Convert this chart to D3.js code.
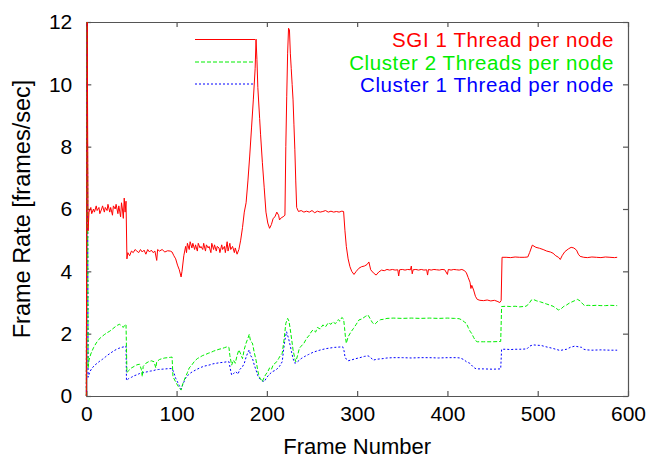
<!DOCTYPE html>
<html><head><meta charset="utf-8">
<script src="https://cdn.jsdelivr.net/npm/d3@7"></script>
<style>body{margin:0;background:#fff}svg{display:block}text{font-family:"Liberation Sans",Arial,Helvetica,sans-serif}</style>
</head><body>
<script>
const xTicks = [0,100,200,300,400,500,600];
const yTicks = [0,2,4,6,8,10,12];
const seriesNames = ["SGI 1 Thread per node","Cluster 2 Threads per node","Cluster 1 Thread per node"];
const xLabel = "Frame Number";
const yLabel = "Frame Rate [frames/sec]";

const sgi = [[0,0],[1,12],[2,5.3],[3,5.9],[5,6.05],[6,5.85],[8,6.0],[9,5.9],[11,6.1],[12,5.95],[14,6.05],[15,5.85],[17,6.0],[18,6.1],[20,5.9],[21,6.05],[23,5.95],[24,6.15],[26,5.9],[27,6.05],[29,5.8],[30,6.1],[32,6.0],[33,6.15],[35,5.85],[36,6.1],[38,5.75],[39,6.2],[40,6.0],[41,5.7],[42,6.35],[43,5.9],[44,6.25],[45,4.4],[46,4.6],[48,4.5],[50,4.65],[52,4.6],[54,4.7],[56,4.65],[58,4.6],[60,4.7],[62,4.62],[64,4.68],[66,4.55],[68,4.7],[70,4.62],[72,4.68],[74,4.6],[76,4.65],[78,4.35],[79,4.7],[81,4.65],[84,4.7],[87,4.62],[90,4.66],[93,4.65],[95,4.62],[97,4.5],[99,4.4],[101,4.2],[103,4.05],[105,3.82],[106,4.0],[108,4.5],[110,4.8],[111,4.6],[112,4.9],[114,4.7],[115,4.95],[117,4.75],[118,4.9],[120,4.7],[121,4.85],[123,4.65],[124,4.9],[126,4.75],[127,4.8],[129,4.7],[130,4.9],[132,4.65],[133,4.85],[135,4.75],[136,4.8],[138,4.6],[139,4.9],[141,4.7],[142,4.85],[144,4.65],[145,4.8],[147,4.75],[148,4.6],[150,4.85],[151,4.7],[153,4.8],[154,4.6],[156,4.95],[157,4.65],[159,4.9],[160,4.7],[162,4.8],[164,4.6],[165,4.75],[167,4.55],[169,4.7],[171,5.0],[173,5.4],[175,5.9],[177,6.2],[179,6.9],[181,7.7],[183,8.6],[185,9.5],[187,10.5],[188,11.45],[189,10.8],[190,9.9],[192,8.9],[193,8.4],[195,7.5],[197,6.7],[199,5.9],[201,5.55],[203,5.38],[205,5.5],[207,5.7],[209,5.75],[211,5.9],[213,5.8],[214,5.65],[216,5.72],[218,5.75],[220,5.8],[221,8.0],[222,9.6],[223,11.0],[224,11.8],[225,11.75],[226,11.0],[227,10.5],[228,10.0],[229,9.5],[230,8.7],[231,7.9],[232,6.9],[233,6.05],[235,5.92],[238,5.95],[241,5.9],[244,5.93],[247,5.9],[250,5.95],[253,5.88],[256,5.93],[259,5.9],[262,5.92],[265,5.95],[268,5.9],[271,5.93],[274,5.9],[277,5.92],[280,5.9],[283,5.93],[285,5.92],[286.5,5.3],[288,4.8],[290,4.4],[292,4.15],[294,4.0],[296.5,3.9],[299,4.0],[302,4.1],[305,4.15],[308,4.17],[311,4.22],[313,4.3],[315,4.05],[318,3.95],[321,3.88],[324,3.98],[327,4.04],[330,4.02],[333,4.06],[336,4.04],[339,4.06],[342,4.04],[345,4.05],[346,3.85],[347,4.05],[350,4.06],[353,4.04],[356,4.06],[359,4.05],[360,4.17],[361,3.92],[362,4.05],[365,4.06],[368,4.04],[371,4.06],[374,4.04],[377,4.05],[378,3.88],[379,4.06],[382,4.04],[385,4.06],[388,4.05],[391,4.04],[394,4.06],[397,4.05],[400,3.9],[401,4.06],[404,4.04],[407,4.06],[410,4.05],[413,4.04],[416,4.06],[419,4.02],[421,3.95],[423,3.8],[425,3.65],[426,3.45],[427,3.55],[429,3.4],[431,3.2],[433,3.1],[436,3.07],[440,3.06],[444,3.08],[448,3.05],[452,3.07],[455,3.04],[458,3.0],[459.5,3.06],[460.5,4.45],[465,4.45],[470,4.44],[475,4.46],[480,4.45],[485,4.45],[489,4.46],[491,4.6],[494,4.84],[498,4.77],[502,4.74],[506,4.7],[510,4.65],[514,4.62],[517,4.58],[520,4.5],[523,4.45],[525,4.38],[527,4.5],[530,4.63],[534,4.72],[537,4.77],[540,4.75],[543,4.68],[545,4.55],[547,4.48],[551,4.45],[555,4.44],[560,4.46],[565,4.45],[570,4.44],[575,4.46],[580,4.45],[585,4.44],[588,4.45]];

const cluster2 = [[0,0],[1,12],[2,0.9],[3,1.15],[5,1.35],[8,1.55],[11,1.7],[14,1.82],[17,1.9],[20,1.97],[23,2.03],[26,2.08],[29,2.15],[32,2.22],[35,2.28],[37,2.3],[39,2.25],[41,2.2],[43,2.3],[44,2.28],[45,0.75],[47,0.82],[50,0.9],[53,0.95],[56,1.0],[59,1.02],[61,0.85],[62,0.62],[63,0.95],[66,1.05],[69,1.1],[72,1.13],[75,1.1],[77,0.9],[78,1.1],[81,1.17],[84,1.2],[87,1.22],[90,1.23],[93,1.24],[95,1.25],[96,0.62],[99,0.45],[102,0.3],[105,0.19],[107,0.4],[110,0.62],[112,0.75],[114,0.9],[117,1.0],[120,1.12],[123,1.2],[126,1.25],[129,1.3],[132,1.33],[135,1.37],[138,1.4],[141,1.44],[144,1.47],[147,1.5],[150,1.52],[153,1.55],[156,1.58],[158,1.56],[159,1.3],[161,0.99],[163,1.15],[165,1.05],[167,1.3],[169,1.48],[171,1.35],[173,1.2],[175,1.5],[177,1.7],[179,1.85],[180.5,1.98],[182,1.75],[184,1.7],[186,1.4],[188,1.15],[190,0.8],[191.5,0.62],[193,0.55],[195,0.46],[197,0.6],[199,0.7],[201,0.78],[203,0.9],[205,0.85],[207,1.0],[209,1.05],[211,1.1],[213,1.2],[215,1.3],[217,1.37],[219,1.8],[221,2.33],[223,2.49],[224.5,2.4],[226,2.12],[228,1.7],[229,1.48],[231,1.2],[232,1.1],[234,1.3],[236,1.53],[238,1.6],[241,1.69],[244,1.85],[247,1.95],[249,2.05],[251,2.12],[254,2.05],[256,2.2],[259,2.15],[262,2.28],[265,2.22],[268,2.35],[271,2.3],[273,2.38],[276,2.32],[279,2.45],[281,2.4],[283,2.52],[285,2.47],[286,2.2],[287,1.9],[288,1.69],[290,1.9],[293,2.05],[296,2.17],[299,2.3],[302,2.44],[305,2.47],[309,2.55],[312,2.6],[314,2.5],[317,2.35],[319.5,2.3],[323,2.4],[326,2.45],[329,2.46],[333,2.49],[340,2.5],[350,2.49],[360,2.5],[370,2.49],[380,2.5],[390,2.49],[400,2.5],[408,2.49],[413,2.48],[416,2.44],[419,2.37],[421,2.33],[423,2.2],[425,2.08],[427,2.0],[429,1.88],[431,1.78],[433,1.74],[440,1.74],[450,1.74],[459,1.75],[460,2.87],[465,2.88],[470,2.87],[475,2.88],[480,2.86],[487,2.88],[490,2.95],[493,3.08],[495,3.1],[499,3.05],[503,3.02],[506,2.99],[510,2.95],[513,2.92],[517,2.88],[520,2.82],[523,2.76],[526,2.8],[529,2.88],[532,2.92],[535,2.98],[538,3.02],[541,3.06],[544,3.1],[547,3.05],[550,2.95],[552,2.9],[556,2.91],[560,2.9],[565,2.91],[570,2.9],[575,2.9],[580,2.91],[588,2.9]];

const cluster1 = [[0,0],[1,12],[2,0.6],[4,0.78],[6,0.88],[9,0.98],[12,1.05],[15,1.12],[18,1.18],[21,1.25],[24,1.32],[27,1.38],[30,1.44],[33,1.49],[36,1.53],[39,1.56],[42,1.58],[44,1.6],[44.5,0.5],[47,0.56],[50,0.6],[53,0.65],[56,0.68],[59,0.72],[62,0.74],[65,0.76],[68,0.78],[71,0.8],[74,0.81],[77,0.84],[80,0.85],[84,0.86],[88,0.87],[92,0.88],[95,0.88],[97,0.75],[99,0.57],[101,0.45],[103,0.33],[105,0.22],[107,0.38],[110,0.57],[113,0.68],[116,0.75],[119,0.8],[122,0.85],[125,0.89],[128,0.93],[131,0.96],[134,0.98],[137,1.0],[140,1.03],[144,1.05],[148,1.07],[152,1.08],[156,1.1],[158,1.1],[160,0.8],[161,0.67],[163,0.72],[165.7,0.78],[168,0.7],[170,0.85],[173,0.94],[175,1.05],[177,1.25],[179,1.4],[180.5,1.48],[182,1.3],[184,1.21],[186,1.0],[188,0.83],[190,0.65],[191.5,0.57],[194,0.5],[197,0.46],[200,0.6],[203,0.7],[206,0.78],[209,0.82],[211,0.86],[214,0.95],[217,1.1],[218.5,1.48],[220,1.8],[221.8,2.06],[224,1.85],[226,1.6],[227.3,1.42],[229,1.2],[231,1.05],[234,1.1],[238,1.2],[242,1.27],[246,1.33],[251,1.4],[256,1.45],[261,1.49],[265.6,1.52],[270,1.54],[275,1.56],[280,1.57],[284,1.58],[285.5,1.45],[286.5,1.26],[288,1.18],[290,1.13],[294,1.16],[298.7,1.2],[303,1.23],[308,1.27],[312,1.29],[315,1.24],[317.5,1.15],[322,1.18],[328.8,1.2],[333,1.22],[340,1.23],[350,1.23],[360,1.22],[370,1.23],[380,1.23],[390,1.22],[400,1.23],[410,1.23],[414,1.22],[418,1.17],[421,1.1],[424.8,1.05],[428,0.95],[430,0.9],[432,0.87],[440,0.87],[450,0.86],[459,0.87],[460,1.5],[465,1.5],[470,1.49],[475,1.5],[480,1.5],[488,1.51],[491,1.6],[494.8,1.64],[499,1.63],[504,1.62],[509,1.58],[515,1.54],[520,1.5],[524.7,1.46],[528,1.48],[532,1.5],[536,1.56],[541,1.6],[545,1.58],[548.6,1.56],[551,1.5],[554,1.48],[560,1.47],[570,1.48],[580,1.47],[588,1.47]];

const W = 658, H = 461;
const m = {left:86.3, right:628, top:22, bottom:396};
const svg = d3.select("body").append("svg").attr("width",W).attr("height",H);
const x = d3.scaleLinear().domain([0,600]).range([m.left,m.right]);
const y = d3.scaleLinear().domain([0,12]).range([m.bottom,m.top]);
const frameColor = "#555";
const tl = 5;

const series = [
  {name:seriesNames[0], data:sgi, color:"#ff0000", dash:null},
  {name:seriesNames[1], data:cluster2, color:"#00ee00", dash:"4,2"},
  {name:seriesNames[2], data:cluster1, color:"#0000ff", dash:"2,2"}
];

const axB = svg.append("g").attr("transform",`translate(0,${m.bottom})`)
  .call(d3.axisBottom(x).tickValues(xTicks).tickSizeInner(-tl).tickSizeOuter(0).tickPadding(10));
const axT = svg.append("g").attr("transform",`translate(0,${m.top})`)
  .call(d3.axisTop(x).tickValues(xTicks).tickSizeInner(-tl).tickSizeOuter(0).tickFormat(""));
const axL = svg.append("g").attr("transform",`translate(${m.left},0)`)
  .call(d3.axisLeft(y).tickValues(yTicks).tickSizeInner(-tl).tickSizeOuter(0).tickPadding(14));
const axR = svg.append("g").attr("transform",`translate(${m.right},0)`)
  .call(d3.axisRight(y).tickValues(yTicks).tickSizeInner(-tl).tickSizeOuter(0).tickFormat(""));
[axB,axT,axL,axR].forEach(a=>{
  a.selectAll("path.domain").attr("stroke",frameColor).attr("stroke-width",1.2);
  a.selectAll(".tick line").attr("stroke",frameColor).attr("stroke-width",1.2);
  a.selectAll(".tick text").attr("font-size",21).attr("fill","#000")
   .attr("font-family","'Liberation Sans',Arial,sans-serif");
});

const line = d3.line().x(d=>x(d[0])).y(d=>y(d[1]));
const g = svg.append("g");
series.slice().reverse().forEach(s=>{
  g.append("path").attr("d",line(s.data)).attr("fill","none")
   .attr("stroke",s.color).attr("stroke-width",1).attr("stroke-dasharray",s.dash);
});

svg.append("text").attr("x",(m.left+m.right)/2).attr("y",454).attr("text-anchor","middle")
  .attr("font-size",22).text(xLabel);
svg.append("text").attr("transform",`translate(30,${(m.top+m.bottom)/2}) rotate(-90)`)
  .attr("text-anchor","middle").attr("font-size",23.5).text(yLabel);

const legY = [39.5,62,84];
series.forEach((s,i)=>{
  svg.append("line").attr("x1",195).attr("x2",255).attr("y1",legY[i]).attr("y2",legY[i])
    .attr("stroke",s.color).attr("stroke-width",1).attr("stroke-dasharray",s.dash);
  svg.append("text").attr("x",614).attr("y",legY[i]+7.5).attr("text-anchor","end")
    .attr("font-size",20.5).attr("letter-spacing",0.6).attr("fill",s.color).text(s.name);
});
</script>
</body></html>
